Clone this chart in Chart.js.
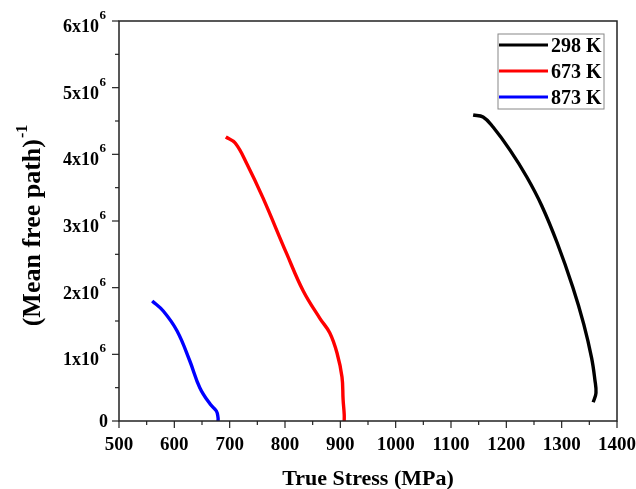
<!DOCTYPE html>
<html lang="en">
<head>
  <meta charset="UTF-8">
  <title>Mean free path vs true stress</title>
  <style>
    html, body { margin: 0; padding: 0; background: #fff; }
    #wrap { width: 636px; height: 489px; }
  </style>
</head>
<body>
  <div id="wrap"><canvas id="myChart"></canvas></div>
  <script src="https://cdn.jsdelivr.net/npm/chart.js@4.4.1/dist/chart.umd.min.js"></script>
  <script>
    const seriesLabels = ['298 K', '673 K', '873 K']
    const seriesColors = ['#000000', '#ff0000', '#0000ff']

    // true stress (MPa) / inverse mean free path
    const stress298 = [1140, 1158, 1176, 1207, 1237, 1264, 1292, 1320, 1340, 1354, 1360, 1362, 1357]
    const mfp298 = [4.59e6, 4.56e6, 4.41e6, 4.06e6, 3.66e6, 3.23e6, 2.67e6, 2.01e6, 1.45e6, 0.95e6, 0.62e6, 0.42e6, 0.28e6]

    const stress673 = [693, 710, 731, 760, 803, 833, 863, 881, 894, 903, 905, 907, 907]
    const mfp673 = [4.26e6, 4.17e6, 3.86e6, 3.35e6, 2.51e6, 1.95e6, 1.54e6, 1.32e6, 1.02e6, 0.66e6, 0.32e6, 0.1e6, 0]

    const stress873 = [560, 580, 605, 628, 646, 665, 676, 679, 679]
    const mfp873 = [1.80e6, 1.65e6, 1.35e6, 0.90e6, 0.50e6, 0.25e6, 0.15e6, 0.05e6, 0]

    const xTicks = [500, 600, 700, 800, 900, 1000, 1100, 1200, 1300, 1400]
    const yTicks = [0, 1e6, 2e6, 3e6, 4e6, 5e6, 6e6]
    const yTickMantissa = ['0', '1x10', '2x10', '3x10', '4x10', '5x10', '6x10']

    const serif = '"Liberation Serif", "Times New Roman", serif'

    function toPoints(xs, ys) {
      return xs.map((x, i) => ({ x: x, y: ys[i] }))
    }

    const axesPlugin = {
      id: 'axesPlugin',
      afterDraw(chart) {
        const ctx = chart.ctx
        const area = chart.chartArea
        const xs = chart.scales.x
        const ys = chart.scales.y
        ctx.save()
        ctx.strokeStyle = '#222'
        ctx.fillStyle = '#000'
        ctx.lineWidth = 1.5
        ctx.strokeRect(area.left, area.top, area.right - area.left, area.bottom - area.top)

        // x ticks, major and minor
        ctx.lineWidth = 1.2
        for (let v = 500; v <= 1400; v += 50) {
          const px = xs.getPixelForValue(v)
          const len = v % 100 === 0 ? 7 : 4
          ctx.beginPath()
          ctx.moveTo(px, area.bottom)
          ctx.lineTo(px, area.bottom + len)
          ctx.stroke()
        }
        // y ticks
        for (let v = 0; v <= 6e6; v += 5e5) {
          const py = ys.getPixelForValue(v)
          const len = v % 1e6 === 0 ? 7 : 4
          ctx.beginPath()
          ctx.moveTo(area.left, py)
          ctx.lineTo(area.left - len, py)
          ctx.stroke()
        }

        ctx.font = 'bold 19px ' + serif
        ctx.textAlign = 'center'
        ctx.textBaseline = 'alphabetic'
        xTicks.forEach(v => {
          ctx.fillText(String(v), xs.getPixelForValue(v), area.bottom + 29)
        })

        yTicks.forEach((v, i) => {
          const py = ys.getPixelForValue(v)
          const right = area.left - 13
          ctx.textBaseline = 'alphabetic'
          ctx.textAlign = 'right'
          if (i === 0) {
            ctx.font = 'bold 18px ' + serif
            ctx.fillText('0', right + 2, py + 6)
            return
          }
          ctx.font = 'bold 13px ' + serif
          const supW = ctx.measureText('6').width
          ctx.fillText('6', right, py - 2)
          ctx.font = 'bold 18px ' + serif
          ctx.fillText(yTickMantissa[i], right - supW - 0.5, py + 11)
        })

        // x title
        ctx.font = 'bold 22px ' + serif
        ctx.textAlign = 'center'
        ctx.textBaseline = 'alphabetic'
        ctx.fillText('True Stress (MPa)', (area.left + area.right) / 2, 485)

        // y title with superscript
        ctx.save()
        ctx.translate(40, 226)
        ctx.rotate(-Math.PI / 2)
        ctx.font = 'bold 26px ' + serif
        const main = '(Mean free path)'
        const mw = ctx.measureText(main).width
        ctx.font = 'bold 16px ' + serif
        const sw = ctx.measureText('-1').width
        const start = -(mw + sw) / 2
        ctx.font = 'bold 26px ' + serif
        ctx.textAlign = 'left'
        ctx.fillText(main, start, 0)
        ctx.font = 'bold 16px ' + serif
        ctx.fillText('-1', start + mw + 1, -13)
        ctx.restore()

        // legend box
        const lx = 498, ly = 34, lw = 106, lh = 75
        ctx.lineWidth = 1
        ctx.strokeStyle = '#888'
        ctx.strokeRect(lx, ly, lw, lh)
        ctx.font = 'bold 20px ' + serif
        ctx.textAlign = 'left'
        ctx.textBaseline = 'alphabetic'
        chart.data.datasets.forEach((ds, i) => {
          const cy = ly + 11 + i * 26
          ctx.strokeStyle = ds.borderColor
          ctx.lineWidth = 3
          ctx.beginPath()
          ctx.moveTo(lx + 1, cy)
          ctx.lineTo(lx + 50, cy)
          ctx.stroke()
          ctx.fillStyle = '#000'
          ctx.fillText(ds.label, lx + 53, cy + 7)
        })
        ctx.restore()
      }
    }

    function drawChart() {
      const context = document.querySelector('#myChart').getContext('2d')
      const allX = [stress298, stress673, stress873]
      const allY = [mfp298, mfp673, mfp873]
      new Chart(context, {
        type: 'line',
        data: {
          datasets: seriesLabels.map((label, i) => ({
            label: label,
            data: toPoints(allX[i], allY[i]),
            borderColor: seriesColors[i],
            backgroundColor: seriesColors[i],
            borderWidth: 3.4,
            pointRadius: 0,
            tension: 0.4,
            fill: false
          }))
        },
        options: {
          responsive: false,
          animation: false,
          layout: { padding: { left: 119, right: 19, top: 21, bottom: 68 } },
          plugins: { legend: { display: false }, tooltip: { enabled: false } },
          scales: {
            x: { type: 'linear', min: 500, max: 1400, display: false },
            y: { type: 'linear', min: 0, max: 6e6, display: false }
          }
        },
        plugins: [axesPlugin]
      })
    }

    const cv = document.querySelector('#myChart')
    cv.width = 636
    cv.height = 489
    drawChart()
  </script>
</body>
</html>
